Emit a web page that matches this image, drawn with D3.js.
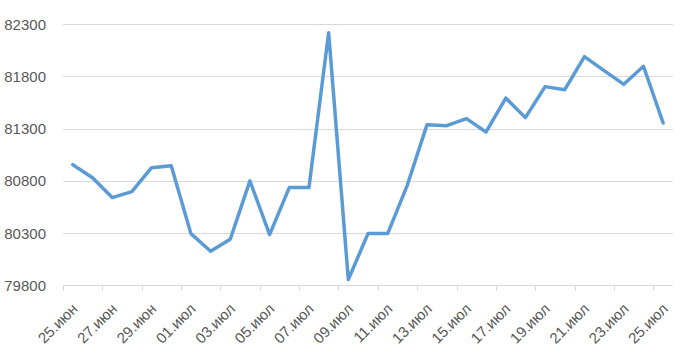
<!DOCTYPE html>
<html>
<head>
<meta charset="utf-8">
<script src="https://cdn.jsdelivr.net/npm/d3@7"></script>
<style>
html,body{margin:0;padding:0;background:#fff;}
svg{display:block;}
</style>
</head>
<body>
<svg id="chart" width="693" height="349"></svg>
<script>
const categories = ["25.июн","26.июн","27.июн","28.июн","29.июн","30.июн",
  "01.июл","02.июл","03.июл","04.июл","05.июл","06.июл","07.июл","08.июл","09.июл",
  "10.июл","11.июл","12.июл","13.июл","14.июл","15.июл","16.июл","17.июл","18.июл",
  "19.июл","20.июл","21.июл","22.июл","23.июл","24.июл","25.июл"];
const values = [80955,80830,80640,80697,80927,80946,
  80295,80126,80241,80800,80285,80736,80736,82220,79855,
  80295,80295,80760,81339,81329,81397,81269,81594,81406,
  81703,81674,81990,81856,81725,81898,81355];
const yTicks = [79800,80300,80800,81300,81800,82300];

const svg = d3.select("#chart");
const x = d3.scaleBand().domain(categories).range([63, 673]).padding(0);
const y = d3.scaleLinear().domain([79800, 82300]).range([285.3, 24.3]);
const font = "'Liberation Sans', Arial, sans-serif";

// gridlines
svg.append("g").selectAll("line").data(yTicks).join("line")
  .attr("x1", 63).attr("x2", 673)
  .attr("y1", d => Math.round(y(d)) + 0.5).attr("y2", d => Math.round(y(d)) + 0.5)
  .attr("stroke", "#d9d9d9").attr("stroke-width", 1);

// y labels
svg.append("g").selectAll("text").data(yTicks).join("text")
  .attr("x", 46).attr("y", d => y(d)).attr("dy", "0.36em")
  .attr("text-anchor", "end")
  .attr("font-family", font).attr("font-size", 15).attr("fill", "#595959")
  .text(d => d);

// x tick marks (every 2nd category boundary)
const tickCats = categories.filter((d, i) => i % 2 === 0);
svg.append("g").selectAll("line").data(tickCats).join("line")
  .attr("x1", d => Math.round(x(d)) + 0.5).attr("x2", d => Math.round(x(d)) + 0.5)
  .attr("y1", 285.5).attr("y2", 290.5)
  .attr("stroke", "#d9d9d9").attr("stroke-width", 1);

// x labels
svg.append("g").selectAll("text").data(tickCats).join("text")
  .attr("transform", d => `translate(${x(d) + x.bandwidth()/2 + 2},${306}) rotate(-45)`)
  .attr("text-anchor", "end").attr("dy", "0.36em")
  .attr("font-family", font).attr("font-size", 15).attr("fill", "#595959")
  .text(d => d);

// line
const line = d3.line()
  .x((d, i) => x(categories[i]) + x.bandwidth()/2)
  .y(d => y(d));
svg.append("path").datum(values)
  .attr("d", line)
  .attr("fill", "none").attr("stroke", "#5b9bd5")
  .attr("stroke-width", 3.5).attr("stroke-linejoin", "round").attr("stroke-linecap", "round");
</script>
</body>
</html>
